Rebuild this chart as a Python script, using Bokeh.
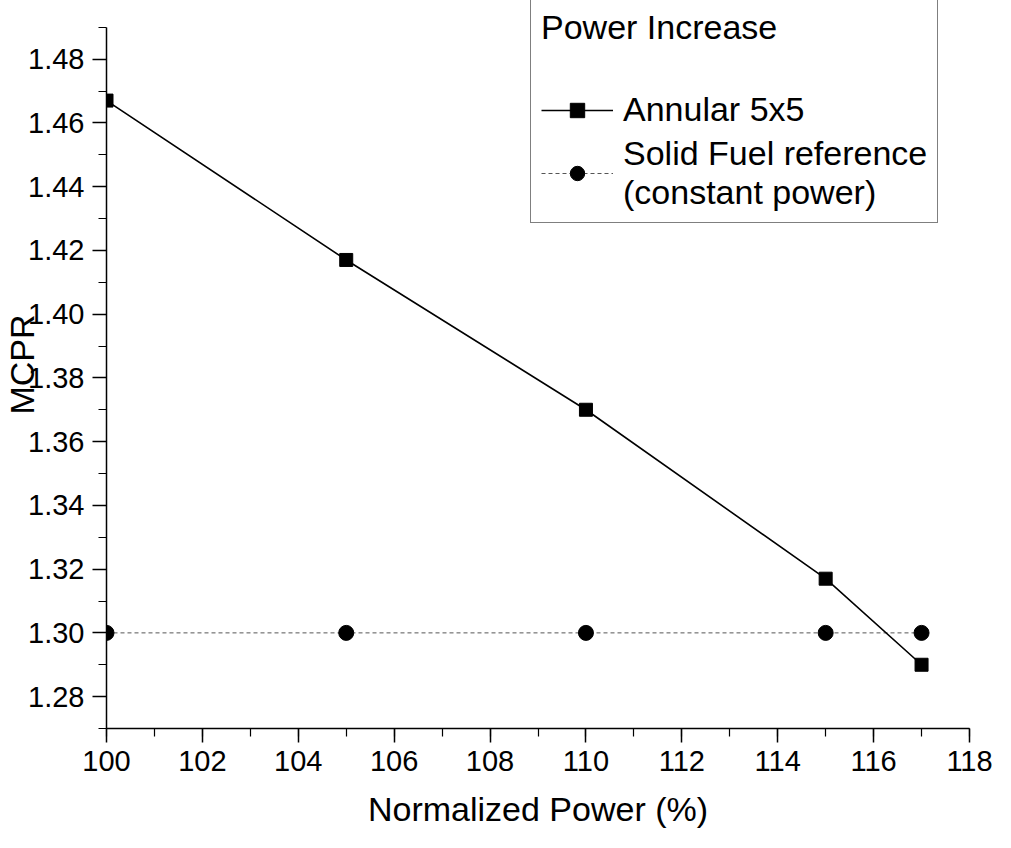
from bokeh.plotting import figure
from bokeh.models import (Range1d, SingleIntervalTicker, PrintfTickFormatter,
                          Legend, LegendItem)
from bokeh.embed import file_html
from bokeh.resources import INLINE

# Data
power = [100, 105, 110, 115, 117]
annular_mcpr = [1.467, 1.417, 1.370, 1.317, 1.290]
solid_mcpr = [1.30, 1.30, 1.30, 1.30, 1.30]

x_label = "Normalized Power (%)"
y_label = "MCPR"
legend_title = "Power Increase"
series_names = ["Annular 5x5", "Solid Fuel reference\n(constant power)"]

FONT = "Liberation Sans"

# frame spans 731 px; axis drawn only over 1.27..1.49, extra space on top holds the legend
p = figure(width=995, height=830, output_backend="svg", toolbar_location=None,
           x_range=Range1d(100, 118), y_range=Range1d(1.27, 1.4984),
           min_border_left=102, min_border_right=26, min_border_top=0,
           min_border_bottom=99)
p.outline_line_color = None
p.xgrid.visible = False
p.ygrid.visible = False
p.background_fill_color = "white"
p.border_fill_color = "white"

# Series
r_sol_line = p.line(power, solid_mcpr, line_color="#555555", line_width=1,
                    line_dash="4 3")
r_sol_pts = p.scatter(power, solid_mcpr, marker="circle", size=15,
                      fill_color="black", line_color="black")
r_ann_line = p.line(power, annular_mcpr, line_color="black", line_width=1.6)
r_ann_pts = p.scatter(power, annular_mcpr, marker="square", size=13,
                      fill_color="black", line_color="black")

# Axes
p.xaxis.ticker = SingleIntervalTicker(interval=2, num_minor_ticks=2)
p.yaxis.ticker = SingleIntervalTicker(interval=0.02, num_minor_ticks=2)
p.yaxis.formatter = PrintfTickFormatter(format="%.2f")
p.yaxis.bounds = (1.27, 1.49)
for ax in (p.xaxis[0], p.yaxis[0]):
    ax.axis_line_color = "black"
    ax.axis_line_width = 1.5
    ax.major_tick_line_color = "black"
    ax.major_tick_line_width = 1.5
    ax.minor_tick_line_color = "black"
    ax.minor_tick_line_width = 1.2
    ax.major_tick_out = 14
    ax.major_tick_in = 0
    ax.minor_tick_out = 8
    ax.minor_tick_in = 0
    ax.major_label_text_font = FONT
    ax.major_label_text_font_size = "29px"
    ax.major_label_text_color = "black"
    ax.axis_label_text_font = FONT
    ax.axis_label_text_font_style = "normal"
    ax.axis_label_text_color = "black"
    ax.axis_label_text_font_size = "34px"
    ax.major_label_standoff = 8

p.xaxis.axis_label = x_label
p.yaxis.axis_label = y_label
p.xaxis.axis_label_standoff = 16
p.yaxis.axis_label_standoff = -16

legend = Legend(items=[
    LegendItem(label=series_names[0], renderers=[r_ann_line, r_ann_pts]),
    LegendItem(label=series_names[1], renderers=[r_sol_line, r_sol_pts]),
], location=(424, 505))
legend.title = legend_title
legend.title_text_font = FONT
legend.title_text_font_size = "34px"
legend.title_text_font_style = "normal"
legend.title_text_color = "black"
legend.title_standoff = 43
legend.label_text_font = FONT
legend.label_text_font_size = "34px"
legend.label_text_color = "black"
legend.label_text_line_height = 1.18
legend.glyph_width = 72
legend.glyph_height = 36
legend.label_standoff = 10
legend.spacing = 5
legend.padding = 10
legend.margin = 0
legend.border_line_color = "black"
legend.border_line_width = 1.2
legend.background_fill_color = "white"
legend.background_fill_alpha = 1.0
p.add_layout(legend, "center")

open("out.html", "w").write(file_html(p, INLINE))
